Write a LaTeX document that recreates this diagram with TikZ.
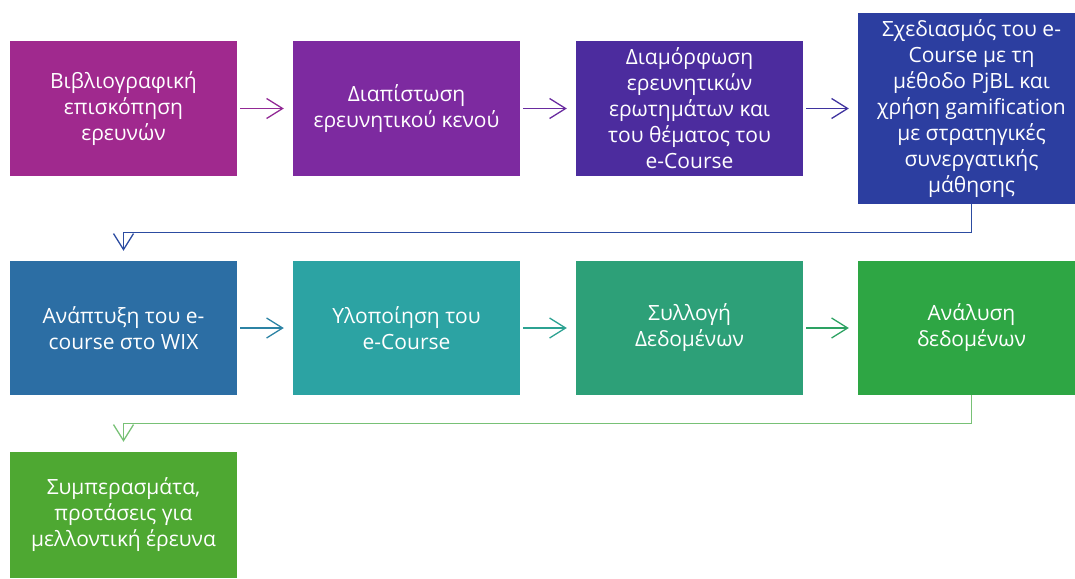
\documentclass[tikz,border=0pt]{standalone}
\usepackage{fontspec}
\setmainfont{Open Sans}
\usetikzlibrary{arrows.meta}
\definecolor{cA}{RGB}{160,41,142}
\definecolor{cB}{RGB}{125,42,160}
\definecolor{cC}{RGB}{76,44,158}
\definecolor{cD}{RGB}{44,62,160}
\definecolor{cE}{RGB}{44,110,164}
\definecolor{cF}{RGB}{44,163,163}
\definecolor{cG}{RGB}{45,160,120}
\definecolor{cH}{RGB}{46,166,68}
\definecolor{cI}{RGB}{78,168,50}

\begin{document}
\begin{tikzpicture}[x=1pt,y=-1pt,
    stepbox/.style={draw=none,fill=#1,text=white,align=center,minimum width=227pt,minimum height=135pt,inner sep=0pt,
      font=\fontsize{21}{26}\selectfont},
    arr/.style={draw=#1,line width=1.3pt,-{Straight Barb[length=16pt,width=20pt]}},
    wrap/.style={arr=#1,shorten >=10pt}]
    \useasboundingbox (0,0) rectangle (1075,578);

    \node[stepbox=cA] (1) at (123.5,108.5) {Βιβλιογραφική\\επισκόπηση\\ερευνών};
    \node[stepbox=cB] (2) at (406.5,108.5) {Διαπίστωση\\ερευνητικού κενού};
    \node[stepbox=cC] (3) at (689.5,108.5) {Διαμόρφωση\\ερευνητικών\\ερωτημάτων και\\του θέματος του\\e-Course};
    \node[stepbox=cD,minimum height=191pt] (4) at (971.5,108.5) {Σχεδιασμός του e-\\Course με τη\\μέθοδο PjBL και\\χρήση gamification\\με στρατηγικές\\συνεργατικής\\μάθησης};

    \node[stepbox=cE,minimum height=134pt] (5) at (123.5,328) {Ανάπτυξη του e-\\course στο WIX};
    \node[stepbox=cF,minimum height=134pt] (6) at (406.5,328) {Υλοποίηση του\\e-Course};
    \node[stepbox=cG,minimum height=134pt] (7) at (689.5,328) {Συλλογή\\Δεδομένων};
    \node[stepbox=cH,minimum height=134pt] (8) at (971.5,328) {Ανάλυση\\δεδομένων};

    \node[stepbox=cI,minimum height=126pt] (9) at (123.5,515) {Συμπερασμάτα,\\προτάσεις για\\μελλοντική έρευνα};

    \draw[arr=cA!60!cB,shorten <=3pt,shorten >=9pt] (1) -- (2);
    \draw[arr=cB!60!cC,shorten <=3pt,shorten >=9pt] (2) -- (3);
    \draw[arr=cC!60!cD,shorten <=3pt,shorten >=9pt] (3) -- (4.west);
    \draw[wrap=cD!70!cE] (4.south) -- ++(0,28) -| (5.north);

    \draw[arr=cE!60!cF,shorten <=3pt,shorten >=9pt] (5) -- (6);
    \draw[arr=cF!60!cG,shorten <=3pt,shorten >=9pt] (6) -- (7);
    \draw[arr=cG!60!cH,shorten <=3pt,shorten >=9pt] (7) -- (8.west);
    \draw[wrap=cH!50!cI!70!white] (8.south) -- ++(0,28) -| (9.north);
\end{tikzpicture}
\end{document}
